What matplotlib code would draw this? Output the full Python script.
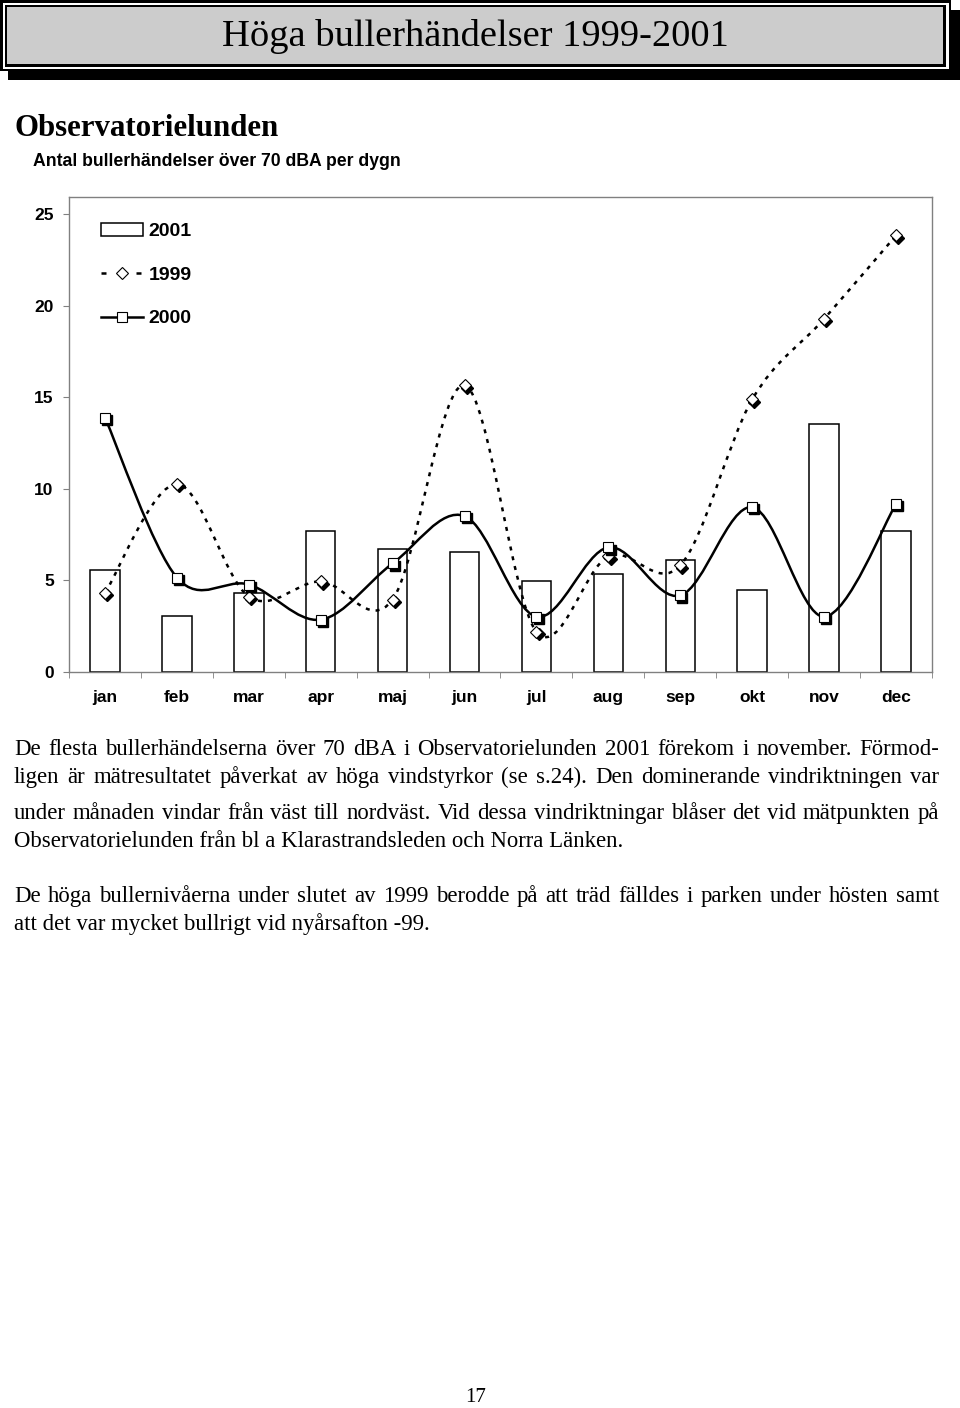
import numpy as np
import matplotlib
matplotlib.use("Agg")
import matplotlib.pyplot as plt
from matplotlib.patches import Rectangle, PathPatch
from matplotlib.path import Path
from matplotlib.lines import Line2D
from matplotlib.transforms import offset_copy

months = ["jan", "feb", "mar", "apr", "maj", "jun", "jul", "aug", "sep", "okt", "nov", "dec"]
val_2001 = [5.55, 3.08, 4.34, 7.7, 6.7, 6.54, 4.95, 5.38, 6.1, 4.5, 13.57, 7.7]
val_1999 = [4.3, 10.27, 4.12, 4.95, 3.96, 15.66, 2.2, 6.32, 5.82, 14.89, 19.29, 23.85]
val_2000 = [13.9, 5.16, 4.78, 2.86, 5.93, 8.52, 3.02, 6.81, 4.18, 9.0, 3.02, 9.18]

W, H = 960, 1408
SERIF = ["Liberation Serif", "DejaVu Serif"]
SANS = ["Liberation Sans", "DejaVu Sans"]

fig = plt.figure(figsize=(W / 100, H / 100), dpi=100)


def px(x, y):
    # pixel (from top-left) -> figure fraction
    return x / W, 1 - y / H


def box(x0, y0, x1, y1, **kw):
    fx, fy = px(x0, y1)
    fig.add_artist(Rectangle((fx, fy), (x1 - x0) / W, (y1 - y0) / H,
                             transform=fig.transFigure, **kw))


# title box with shadow
box(8, 10, 960, 80, facecolor="black", edgecolor="none")
box(0, 0, 951, 71, facecolor="black", edgecolor="none")
box(2.7, 2.7, 948.5, 68.5, facecolor="white", edgecolor="none")
box(4.7, 4.7, 946, 66.5, facecolor="black", edgecolor="none")
box(7.3, 7.3, 943, 63.5, facecolor="#cccccc", edgecolor="none")
fig.text(*px(475, 36), "Höga bullerhändelser 1999-2001", family=SERIF,
         fontsize=27.7, ha="center", va="center")

fig.text(*px(14, 128), "Observatorielunden", family=SERIF, fontweight="bold",
         fontsize=22.2, ha="left", va="center")
fig.text(*px(33, 161), "Antal bullerhändelser över 70 dBA per dygn", family=SANS,
         fontweight="bold", fontsize=12.7, ha="left", va="center")

# chart
ax = fig.add_axes([69 / W, 1 - 672 / H, (932 - 69) / W, (672 - 197) / H])
x = np.arange(len(months))

ax.bar(x, val_2001, width=0.41, facecolor="white", edgecolor="black",
       linewidth=1.1, zorder=2)


def smooth(xs, ys):
    pts = np.column_stack([xs, ys]).astype(float)
    n = len(pts)
    verts = [pts[0]]
    codes = [Path.MOVETO]
    for i in range(n - 1):
        p0 = pts[max(i - 1, 0)]
        p1 = pts[i]
        p2 = pts[i + 1]
        p3 = pts[min(i + 2, n - 1)]
        verts += [p1 + (p2 - p0) / 6, p2 - (p3 - p1) / 6, p2]
        codes += [Path.CURVE4] * 3
    return Path(verts, codes)


dash = (0, (1.6, 2.4))
ax.add_patch(PathPatch(smooth(x, val_1999), fill=False, edgecolor="black",
                       linewidth=1.8, linestyle=dash, zorder=3))
ax.add_patch(PathPatch(smooth(x, val_2000), fill=False, edgecolor="black",
                       linewidth=1.8, zorder=4))

shadow = offset_copy(ax.transData, fig=fig, x=2.2, y=-2.2, units="dots")
for vals, mk, ms, z in [(val_1999, "D", 6.2, 5), (val_2000, "s", 7.8, 6)]:
    ax.plot(x, vals, linestyle="none", marker=mk, markersize=ms, color="black",
            transform=shadow, zorder=z)
    ax.plot(x, vals, linestyle="none", marker=mk, markersize=ms,
            markerfacecolor="white", markeredgecolor="black",
            markeredgewidth=0.8, zorder=z + 0.5)

ax.set_xlim(-0.5, 11.5)
ax.set_ylim(0, 25.95)
ax.set_yticks([0, 5, 10, 15, 20, 25])
ax.set_xticks(x)
ax.set_xticklabels(months)
ax.set_xticks(np.arange(-0.5, 12, 1), minor=True)
ax.tick_params(axis="x", which="major", length=0, pad=13)
ax.tick_params(axis="x", which="minor", length=4, color="#808080")
ax.tick_params(axis="y", length=4, color="#808080", pad=7)
for lab in ax.get_xticklabels() + ax.get_yticklabels():
    lab.set_family(SANS)
    lab.set_fontweight("bold")
    lab.set_fontsize(12.5)
for sp in ax.spines.values():
    sp.set_color("#808080")
    sp.set_linewidth(1.0)

handles = [
    Rectangle((0, 0), 1, 1, facecolor="white", edgecolor="black", linewidth=1.1),
    Line2D([], [], color="black", linewidth=1.8, linestyle=(0, (2.0, 5.0)),
           marker="D", markersize=6.2, markerfacecolor="white",
           markeredgecolor="black", markeredgewidth=0.8),
    Line2D([], [], color="black", linewidth=1.8, marker="s", markersize=7.8,
           markerfacecolor="white", markeredgecolor="black", markeredgewidth=0.8),
]
ax.legend(handles, ["2001", "1999", "2000"], loc="upper left",
          bbox_to_anchor=((101 - 69) / 863, (672 - 223) / 475),
          frameon=False, borderpad=0, borderaxespad=0, handlelength=2.15,
          handleheight=0.65, handletextpad=0.3, labelspacing=1.35,
          prop={"family": SANS, "weight": "bold", "size": 14})

# body text, justified
lines = [
    ("De flesta bullerhändelserna över 70 dBA i Observatorielunden 2001 förekom i november. Förmod-", 755, True),
    ("ligen är mätresultatet påverkat av höga vindstyrkor (se s.24). Den dominerande vindriktningen var", 783, True),
    ("under månaden vindar från väst till nordväst. Vid dessa vindriktningar blåser det vid mätpunkten på", 819, True),
    ("Observatorielunden från bl a Klarastrandsleden och Norra Länken.", 847, False),
    ("De höga bullernivåerna under slutet av 1999 berodde på att träd fälldes i parken under hösten samt", 902, True),
    ("att det var mycket bullrigt vid nyårsafton -99.", 930, False),
]
renderer = fig.canvas.get_renderer()
body_size = 16.4
x_left, x_right = 14, 939
for txt, yb, justify in lines:
    if not justify:
        fig.text(*px(x_left, yb), txt, family=SERIF, fontsize=body_size,
                 ha="left", va="baseline")
        continue
    words = txt.split(" ")
    arts = [fig.text(0, 0, w, family=SERIF, fontsize=body_size, ha="left",
                     va="baseline") for w in words]
    widths = [a.get_window_extent(renderer).width for a in arts]
    gap = (x_right - x_left - sum(widths)) / (len(words) - 1)
    cx = x_left
    for a, wd in zip(arts, widths):
        a.set_position(px(cx, yb))
        cx += wd + gap

fig.text(*px(476, 1398), "17", family=SERIF, fontsize=15, ha="center", va="center")

fig.savefig("out.png", dpi=100)
